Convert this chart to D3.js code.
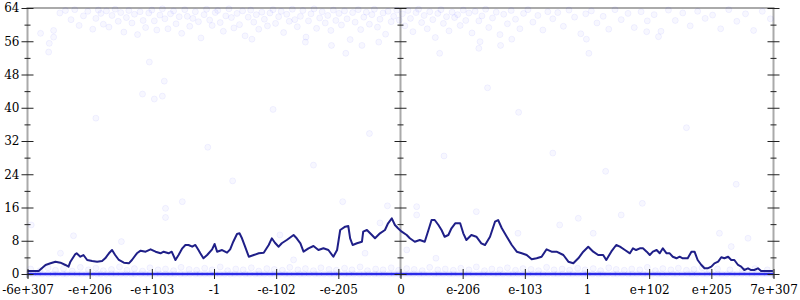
<!DOCTYPE html>
<html lang="en">
  <head>
    <meta charset="utf-8">
    <title>exponent plot</title>
    <style>
      body { margin: 0; background: #fff; }
      text { font-family: "DejaVu Serif", "Liberation Serif", serif; font-size: 12px; fill: #000; }
    </style>
  </head>
  <body>
    <div id="chart"></div>
    <script src="https://d3js.org/d3.v7.min.js" charset="utf-8"></script>
    <script>
      // x positions are in tick units (0 = first label, 12 = last label)
      let xLabels = ['-6e+307', '-e+206', '-e+103', '-1', '-e-102', '-e-205', '0',
                     'e-206', 'e-103', '1', 'e+102', 'e+205', '7e+307'];
      let yMajor = [0, 8, 16, 24, 32, 40, 48, 56, 64];
      let yMinor = [4, 12, 20, 28, 36, 44, 52, 60];

      // running average, [x, value]
      let avgLine = [
        [0.00,0.72],[0.18,0.72],[0.29,2.17],[0.37,2.57],[0.45,2.96],[0.53,2.72],[0.61,2.17],[0.66,1.76],
        [0.69,2.96],[0.77,4.81],[0.79,4.98],[0.85,4.16],[0.90,4.57],[0.96,3.37],[1.04,3.13],[1.12,2.96],
        [1.20,3.13],[1.25,3.78],[1.31,4.98],[1.36,5.77],[1.41,4.57],[1.47,3.37],[1.55,2.72],[1.63,2.57],
        [1.68,3.37],[1.76,4.98],[1.82,5.61],[1.90,5.37],[1.98,5.94],[2.06,5.37],[2.14,4.98],[2.19,5.37],
        [2.27,4.98],[2.32,5.37],[2.38,3.37],[2.43,4.57],[2.49,6.18],[2.54,6.98],[2.59,6.98],[2.65,6.57],
        [2.70,6.98],[2.75,5.77],[2.78,4.98],[2.83,3.78],[2.89,4.57],[2.97,5.94],[3.01,7.22],[3.05,5.37],
        [3.13,5.77],[3.21,5.13],[3.26,5.94],[3.31,7.77],[3.37,9.62],[3.41,9.79],[3.45,8.59],[3.50,6.57],
        [3.56,4.16],[3.64,4.57],[3.72,4.98],[3.80,5.13],[3.88,6.98],[3.93,8.59],[3.98,7.53],[4.04,6.57],
        [4.09,7.39],[4.17,8.18],[4.22,8.73],[4.28,9.38],[4.33,8.59],[4.39,7.39],[4.44,5.37],[4.52,6.18],
        [4.60,6.74],[4.68,5.77],[4.76,6.18],[4.84,5.77],[4.92,4.16],[4.98,5.77],[5.03,10.59],[5.11,11.38],
        [5.16,11.55],[5.19,8.59],[5.23,6.98],[5.30,7.39],[5.38,7.77],[5.40,10.18],[5.46,10.59],[5.54,9.38],
        [5.59,8.59],[5.67,9.79],[5.75,10.59],[5.80,12.20],[5.86,13.40],[5.91,11.79],[5.96,11.00],[6.02,10.18],
        [6.10,9.38],[6.15,8.59],[6.23,7.77],[6.31,8.18],[6.39,7.77],[6.45,10.59],[6.50,12.99],[6.55,12.99],
        [6.61,11.79],[6.66,10.59],[6.71,8.97],[6.77,9.38],[6.82,11.00],[6.88,12.20],[6.96,12.20],[7.01,9.79],
        [7.06,8.18],[7.14,9.38],[7.22,8.97],[7.30,7.39],[7.36,6.98],[7.44,8.97],[7.52,12.58],[7.57,12.99],
        [7.63,11.00],[7.71,8.97],[7.79,6.98],[7.87,5.37],[7.95,4.98],[8.03,4.57],[8.11,3.54],[8.19,3.78],
        [8.27,4.16],[8.35,5.94],[8.43,5.37],[8.51,5.37],[8.62,4.57],[8.70,2.96],[8.78,2.57],[8.86,3.78],
        [8.94,5.37],[9.02,6.57],[9.10,5.37],[9.18,4.57],[9.26,4.57],[9.31,3.37],[9.39,5.37],[9.47,6.98],
        [9.53,6.57],[9.61,5.77],[9.69,4.98],[9.74,6.18],[9.79,5.77],[9.85,6.18],[9.90,6.18],[9.96,5.37],
        [10.01,4.57],[10.06,5.37],[10.12,5.77],[10.17,4.98],[10.22,6.18],[10.28,4.98],[10.33,4.98],[10.38,4.16],
        [10.44,3.78],[10.49,4.16],[10.54,3.78],[10.62,3.78],[10.68,5.37],[10.73,5.37],[10.78,3.37],[10.84,2.17],
        [10.89,1.37],[10.94,1.37],[11.00,1.76],[11.05,2.57],[11.11,2.96],[11.16,4.02],[11.21,3.78],[11.27,4.16],
        [11.32,3.37],[11.37,3.37],[11.43,2.17],[11.48,1.76],[11.53,0.96],[11.59,1.37],[11.64,0.96],[11.69,0.96],
        [11.75,1.37],[11.80,0.72],[11.99,0.72]
      ];

      // samples near the top of the range, [x, value]
      let topDots = [
        [0.35,55.5],[0.42,58.6],[0.52,62.8],[0.61,63.4],[0.70,61.2],[0.76,63.6],[0.83,59.8],[0.90,62.1],[0.97,63.2],[1.05,58.9],[1.10,61.5],[1.14,63.5],
        [1.18,62.7],[1.22,60.1],[1.27,63.3],[1.31,59.4],[1.36,62.2],[1.41,63.7],[1.46,60.8],[1.50,62.9],[1.55,58.2],[1.59,61.7],[1.63,63.4],[1.68,60.4],
        [1.72,62.5],[1.77,57.6],[1.81,63.1],[1.86,61.0],[1.90,59.3],[1.95,62.8],
        [2.00,63.5],[2.04,60.9],[2.08,58.7],[2.13,62.3],[2.17,63.8],[2.21,61.4],[2.26,59.0],[2.30,62.6],[2.35,63.3],[2.39,60.2],[2.44,61.9],[2.48,57.9],
        [2.53,63.6],[2.57,62.0],[2.61,59.6],[2.66,61.5],[2.70,63.1],[2.75,60.7],[2.79,56.8],[2.84,62.4],[2.88,63.7],[2.93,61.1],[2.97,59.8],
        [3.02,62.9],[3.06,63.4],[3.10,60.5],[3.15,58.4],[3.19,62.1],[3.24,63.8],[3.28,61.7],[3.32,59.2],[3.37,62.7],[3.41,60.0],[3.46,63.3],[3.50,57.3],
        [3.55,61.8],[3.59,63.5],[3.64,60.6],[3.68,62.4],[3.72,58.9],[3.77,63.0],[3.81,61.3],[3.86,59.7],[3.90,62.8],[3.95,63.6],
        [3.99,60.3],[4.04,61.9],[4.08,63.2],[4.12,58.1],[4.17,62.5],[4.21,60.8],[4.26,63.7],[4.30,61.2],[4.34,59.5],[4.39,62.0],[4.43,63.4],[4.48,57.0],
        [4.52,60.9],[4.56,62.6],[4.61,63.8],[4.65,59.1],[4.70,61.6],[4.74,63.1],[4.79,60.4],[4.83,62.2],[4.88,58.6],[4.92,63.5],[4.96,61.0],
        [5.01,62.7],[5.05,59.9],[5.10,63.3],[5.14,61.4],[5.19,56.4],[5.23,62.9],[5.27,60.6],[5.32,63.6],[5.36,58.8],[5.41,61.8],[5.45,63.0],[5.50,60.1],
        [5.54,62.4],[5.58,63.7],[5.63,59.4],[5.67,61.3],[5.72,62.8],[5.76,57.7],[5.80,63.2],[5.85,60.7],[5.89,62.0],[5.94,63.5],[5.98,61.1],
        [6.03,62.6],[6.07,59.7],[6.12,63.4],[6.16,61.5],[6.20,58.3],[6.25,62.9],[6.29,63.7],[6.34,60.5],[6.38,62.2],[6.43,59.0],[6.47,63.1],[6.52,61.2],
        [6.56,56.9],[6.60,62.7],[6.65,63.6],[6.69,60.3],[6.74,61.9],[6.78,58.5],[6.83,63.0],[6.87,61.7],[6.92,62.4],[6.96,59.8],
        [7.01,63.5],[7.05,61.0],[7.10,62.8],[7.15,58.0],[7.20,63.2],[7.26,60.9],[7.31,62.1],[7.37,63.7],[7.42,59.3],[7.48,61.6],[7.54,63.0],[7.60,57.6],
        [7.66,62.5],[7.72,60.2],[7.78,63.4],[7.85,61.3],[7.92,59.0],[7.98,62.7],
        [8.05,63.6],[8.13,60.6],[8.21,62.2],[8.29,58.7],[8.37,63.1],[8.45,61.4],[8.53,62.9],[8.62,59.6],[8.71,63.5],[8.80,61.8],[8.90,57.8],[8.98,62.6],
        [9.07,63.3],[9.16,60.4],[9.26,62.0],[9.35,58.9],[9.45,63.6],[9.55,61.2],[9.66,62.7],[9.76,59.3],[9.87,63.1],[9.97,60.9],
        [10.08,62.4],[10.19,58.4],[10.31,63.5],[10.42,61.0],[10.54,62.8],[10.66,59.7],[10.78,63.2],[10.90,61.5],
        [11.02,62.3],[11.15,59.0],[11.28,63.6],[11.41,60.8],[11.55,62.6],[11.68,58.6],[11.82,63.2],[11.95,61.4]
      ];

      // scattered samples in between
      let midDots = [
        [0.21,57.9],[0.42,57.0],[0.34,53.4],[1.96,51.0],[2.20,46.4],[1.85,43.3],[2.04,42.1],[2.17,42.8],
        [3.61,56.5],[4.47,55.8],[4.89,55.0],[5.12,53.1],[5.38,55.0],[5.65,55.8],[6.63,53.1],[7.26,54.3],
        [7.28,55.9],[7.61,55.0],[7.79,56.5],[9.03,53.1],[8.99,56.5],[9.96,58.3],[10.15,57.1],
        [0.06,11.8],[0.74,9.2],[0.53,5.0],[1.51,7.8],[2.22,15.8],[2.22,13.6],[2.49,17.4],[5.07,17.4],
        [5.79,16.4],[6.26,16.2],[6.57,3.8],[5.43,5.0],[6.10,5.8],[9.89,17.0],[9.55,14.2],[11.13,9.8],
        [11.32,6.6],[11.59,8.6],[7.89,9.8],[8.56,11.8],[9.10,9.8],[7.22,15.0],[4.06,9.4],[4.28,3.4],
        [5.67,12.3],[6.26,14.2],[8.86,13.4],
        [1.10,37.5],[2.90,30.5],[3.95,39.6],[4.60,26.2],[5.50,33.8],[6.70,28.4],[7.90,38.9],[8.45,29.1],
        [9.30,24.7],[10.60,35.2],[11.40,21.6],[3.30,22.4],[7.40,44.8]
      ];

      // samples just above zero
      let lowDots = [
        [0.05,1.2],[0.20,0.8],[0.33,1.5],[0.45,0.9],[0.58,1.3],[0.72,0.7],[0.85,1.6],[0.98,1.0],[1.10,1.4],[1.22,0.8],
        [1.35,1.1],[1.48,1.7],[1.60,0.9],[1.72,1.3],[1.85,0.7],[1.97,1.5],[2.10,1.0],[2.22,1.2],[2.35,0.8],[2.47,1.6],
        [2.60,1.1],[2.72,0.9],[2.85,1.4],[2.97,1.0],[3.10,1.7],[3.22,0.8],[3.35,1.2],[3.47,1.0],[3.60,1.5],[3.72,0.7],
        [3.85,1.3],[3.97,1.1],[4.10,0.9],[4.22,1.6],[4.35,1.0],[4.47,1.3],[4.60,0.8],[4.72,1.5],[4.85,1.1],[4.97,0.9],
        [5.10,1.4],[5.22,1.0],[5.35,1.7],[5.47,0.8],[5.60,1.2],[5.72,1.0],[5.85,1.5],[5.97,0.9],[6.10,1.3],[6.22,1.1],
        [6.35,0.8],[6.47,1.6],[6.60,1.0],[6.72,1.2],[6.85,0.9],[6.97,1.4],[7.10,1.0],[7.22,1.7],[7.35,0.8],[7.47,1.2],
        [7.60,1.0],[7.72,1.5],[7.85,0.9],[7.97,1.3],[8.10,1.1],[8.22,0.8],[8.35,1.6],[8.47,1.0],[8.60,1.2],[8.72,0.9],
        [8.85,1.4],[8.97,1.0],[9.10,1.3],[9.22,0.8],[9.35,1.5],[9.47,1.1],[9.60,0.9],[9.72,1.2],[9.85,1.0],[9.97,1.6],
        [10.10,0.8],[10.22,1.3],[10.35,1.0],[10.47,1.4],[10.60,0.9],[10.72,1.1],[10.85,1.5],[10.97,0.8],[11.10,1.2],
        [11.30,1.0],[11.50,0.9],[11.70,1.3],[11.90,1.0]
      ];

      // samples at exactly zero (x only)
      let zeroDots = [
        0.02,0.09,0.17,0.24,0.33,0.41,0.48,0.57,0.63,0.72,0.80,0.87,0.95,1.03,1.12,1.18,1.27,1.35,1.42,1.50,
        1.58,1.67,1.73,1.82,1.90,1.97,2.06,2.13,2.22,2.30,2.37,2.46,2.53,2.61,2.70,2.77,2.85,2.93,3.02,3.09,
        3.17,3.26,3.33,3.41,3.50,3.57,3.66,3.73,3.81,3.90,3.97,4.05,4.14,4.21,4.29,4.38,4.45,4.53,4.62,4.69,
        4.77,4.86,4.93,5.01,5.10,5.17,5.25,5.34,5.41,5.49,5.58,5.65,5.73,5.82,5.89,5.97,6.05,6.13,6.21,6.30,
        6.37,6.45,6.54,6.61,6.69,6.78,6.85,6.93,7.02,7.09,7.17,7.26,7.33,7.41,7.50,7.57,7.65,7.74,7.81,7.89,
        7.98,8.05,8.13,8.22,8.29,8.37,8.46,8.53,8.61,8.70,8.77,8.85,8.94,9.01,9.09,9.18,9.25,9.33,9.42,9.49,
        9.57,9.66,9.73,9.81,9.90,9.97,10.05,10.14,10.21,10.29,10.38,10.45,10.53,10.62,10.69,10.77,10.86,10.93,
        11.01,11.10,11.17,11.25,11.34,11.41,11.49,11.58,11.65,11.73,11.82,11.89,11.97
      ];

      let width = 800, height = 300;
      let x = d3.scaleLinear().domain([0, 12]).range([27.5, 773.5]);
      let y = d3.scaleLinear().domain([0, 64]).range([274, 8]);

      let svg = d3.select('#chart').append('svg')
        .attr('width', width).attr('height', height);

      // frame lines
      let frame = svg.append('g').attr('stroke', '#aaa').attr('stroke-width', 2);
      frame.append('line')
        .attr('x1', x(0) - 1).attr('x2', x(12) + 1).attr('y1', y(64)).attr('y2', y(64));
      [0, 6, 12].forEach(t => {
        frame.append('line')
          .attr('x1', x(t)).attr('x2', x(t)).attr('y1', y(64)).attr('y2', y(0) + 4);
      });

      // dots
      let dotsG = svg.append('g')
        .attr('fill', 'blue').attr('fill-opacity', 0.03)
        .attr('stroke', 'blue').attr('stroke-opacity', 0.05).attr('stroke-width', 1);
      let allDots = topDots.concat(midDots, lowDots, zeroDots.map(t => [t, 0]));
      dotsG.selectAll('circle')
        .data(allDots)
        .enter()
        .append('circle')
        .attr('cx', d => x(d[0]))
        .attr('cy', d => y(d[1]))
        .attr('r', 3);

      // the zero row is so dense it saturates into a solid band
      svg.append('line')
        .attr('x1', x(0)).attr('x2', x(12)).attr('y1', y(0)).attr('y2', y(0))
        .attr('stroke', '#2b2be8').attr('stroke-width', 2.5);

      // average line
      let line = d3.line().x(d => x(d[0])).y(d => y(d[1]));
      svg.append('path')
        .datum(avgLine)
        .attr('d', line)
        .attr('fill', 'none')
        .attr('stroke', '#1f1f88')
        .attr('stroke-width', 2)
        .attr('stroke-linejoin', 'round');

      // vertical axes: ticks crossing both sides
      function yTicks(t, labels) {
        let g = svg.append('g').attr('stroke', '#222').attr('stroke-width', 1);
        g.selectAll('line.major')
          .data(yMajor)
          .enter()
          .append('line')
          .attr('x1', x(t) - 6).attr('x2', x(t) + 6)
          .attr('y1', d => y(d) + 0.5).attr('y2', d => y(d) + 0.5);
        g.selectAll('line.minor')
          .data(yMinor)
          .enter()
          .append('line')
          .attr('x1', x(t) - 3).attr('x2', x(t) + 3)
          .attr('y1', d => y(d) + 0.5).attr('y2', d => y(d) + 0.5);
        if (labels) {
          svg.append('g').selectAll('text')
            .data(yMajor)
            .enter()
            .append('text')
            .attr('x', x(t) - 8)
            .attr('y', d => y(d))
            .attr('dy', '0.36em')
            .attr('text-anchor', 'end')
            .text(d => d);
        }
      }
      yTicks(0, true);
      yTicks(6, false);
      yTicks(12, false);

      // bottom axis
      let xAxis = d3.axisBottom(x)
        .tickValues(d3.range(13))
        .tickFormat(i => xLabels[i])
        .tickSizeOuter(0);
      let xg = svg.append('g')
        .attr('transform', 'translate(0,' + y(0) + ')')
        .call(xAxis);
      xg.select('.domain').remove();
      xg.selectAll('.tick line')
        .attr('y1', -5).attr('y2', 5)
        .attr('stroke', '#222');
      xg.selectAll('.tick text')
        .attr('y', 20).attr('dy', 0)
        .style('font-family', '"DejaVu Serif", "Liberation Serif", serif')
        .style('font-size', '12px')
        .attr('fill', '#000');
    </script>
  </body>
</html>
